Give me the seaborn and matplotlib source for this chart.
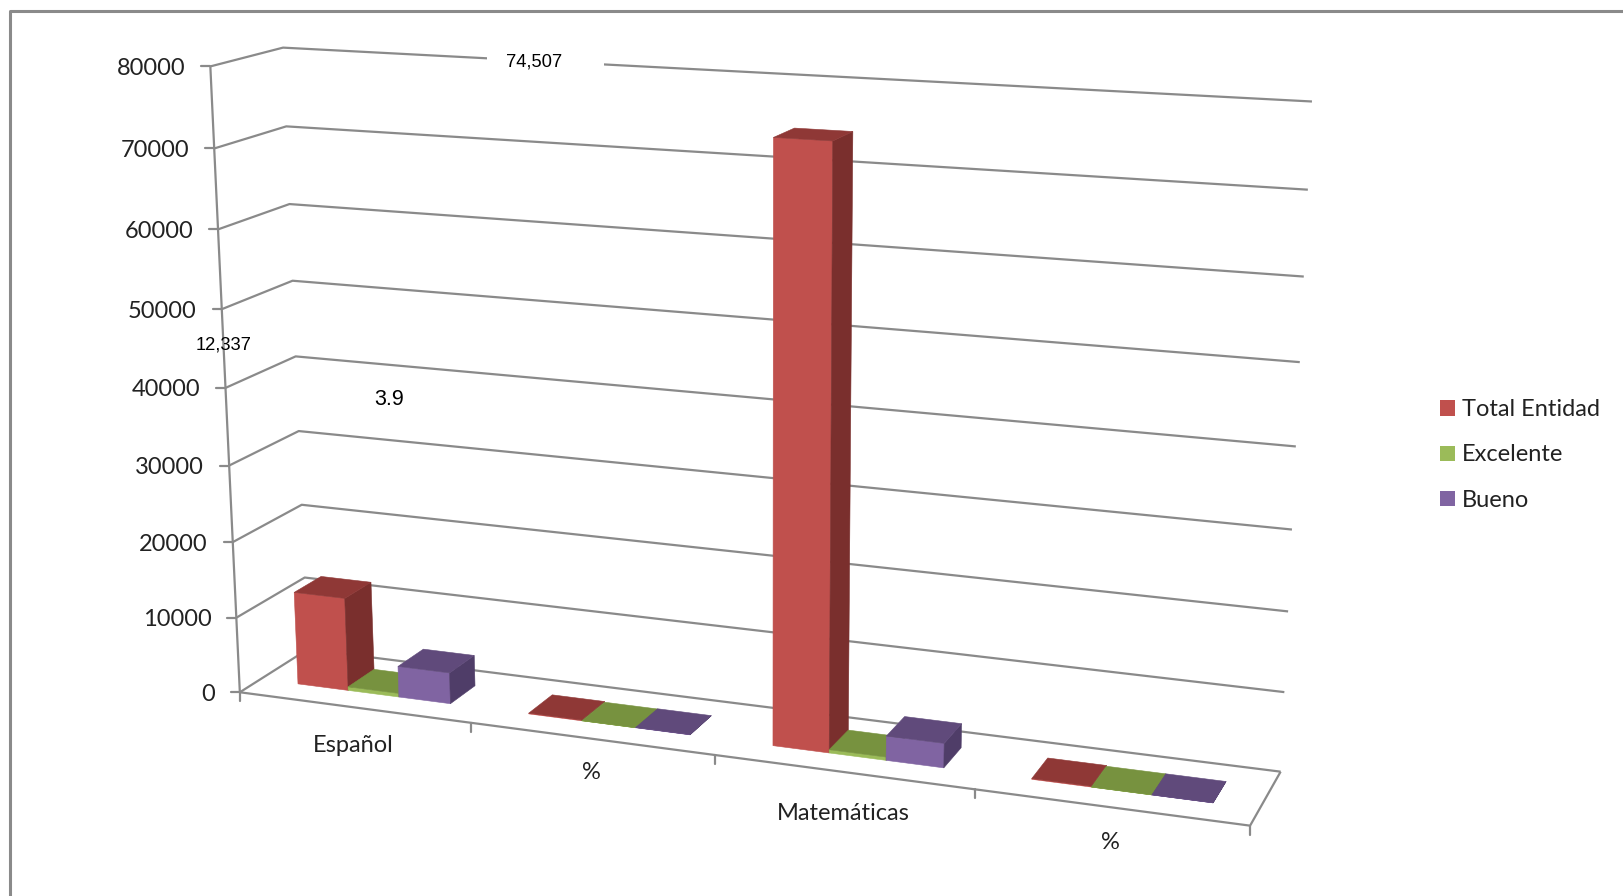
import numpy as np
import matplotlib
matplotlib.use("Agg")
import matplotlib.pyplot as plt
from matplotlib.patches import Patch, Polygon, Rectangle
import seaborn as sns

# Chart values
categories = ["Español", "%", "Matemáticas", "%"]
series_names = ["Total Entidad", "Excelente", "Bueno"]
total_entidad = [12337, 100, 74507, 100]
excelente = [481, 3.9, 420, 0.5]
bueno = [4100, 33, 3100, 4.2]
y_ticks = [0, 10000, 20000, 30000, 40000, 50000, 60000, 70000, 80000]

# Face colours: front, top, side
front_colors = sns.color_palette(["#C0504D", "#9BBB59", "#8064A2"])
top_colors = sns.color_palette(["#8F3836", "#77923F", "#604A7B"])
side_colors = sns.color_palette(["#7A2F2D", "#5F7530", "#4F3D68"])
GRID = "#8A8A8A"

sns.set_theme(style="white")
plt.rcParams["font.family"] = ["Lato", "DejaVu Sans"]

SCALE = 1624 / 1568
fig = plt.figure(figsize=(16.24, 8.96), dpi=100, facecolor="white")
ax = fig.add_axes([0, 0, 1, 1])
ax.set_xlim(0, 1624)
ax.set_ylim(896, 0)
ax.axis("off")

# Perspective camera fitted to the chart box: category u in 0..4,
# value in tens of thousands 0..8, depth w in 0..1.
front_left = [(232, 669), (228, 597), (224.5, 523), (221, 448), (217.5, 373),
              (214, 298), (210.5, 222), (207, 144), (203.5, 65)]
back_left = [(298, 628), (295, 558), (291, 487), (288, 416), (285, 344),
             (282, 271), (279, 197), (276, 122), (274, 46)]
back_right = [(1236, 744), (1240, 668), (1244, 591), (1247, 511), (1251, 431),
              (1255, 350), (1259, 267), (1263, 183), (1267, 98)]
anchors_3d, anchors_2d = [], []
for lev in range(9):
    anchors_3d += [(0, lev, 0), (0, lev, 1), (4, lev, 1)]
    anchors_2d += [front_left[lev], back_left[lev], back_right[lev]]
anchors_3d.append((4, 0, 0))
anchors_2d.append((1207, 798))

rows, rhs = [], []
for (u, v, w), (px, py) in zip(anchors_3d, anchors_2d):
    px, py = px * SCALE, py * SCALE
    rows.append([u, v, w, 1, 0, 0, 0, 0, -px * u, -px * v, -px * w])
    rows.append([0, 0, 0, 0, u, v, w, 1, -py * u, -py * v, -py * w])
    rhs += [px, py]
sol = np.linalg.lstsq(np.array(rows, float), np.array(rhs, float), rcond=None)[0]
CAMERA = np.append(sol, 1.0).reshape(3, 4)


def project(u, value, w):
    p = CAMERA @ np.array([u, value / 10000.0, w, 1.0])
    return p[0] / p[2], p[1] / p[2]


def draw_path(points, lw=1.6, z=1):
    xs, ys = zip(*[project(*p) for p in points])
    ax.plot(xs, ys, color=GRID, lw=lw, solid_capstyle="butt", zorder=z)


# Outer chart border, running off the right and bottom edges
ax.plot([10.5, 10.5, 1624], [896, 11.5, 11.5], color=GRID, lw=2.2, zorder=1)

# Walls, floor and axes
for tick in y_ticks:
    draw_path([(0, tick, 0), (0, tick, 1), (4, tick, 1)])
draw_path([(0, 0, 0), (0, 80000, 0)])
draw_path([(0, 0, 0), (4, 0, 0), (4, 0, 1)])

for tick in y_ticks:
    x, y = project(0, tick, 0)
    ax.plot([x - 9, x], [y, y], color=GRID, lw=1.6, zorder=1)
    ax.text(x - 25, y, str(tick), ha="right", va="center_baseline",
            fontsize=17, color="#222222")

for i in range(5):
    x, y = project(i, 0, 0)
    ax.plot([x, x], [y, y + 9], color=GRID, lw=1.6, zorder=1)

# Label space that interrupts the top gridline
ax.add_patch(Rectangle((470 * SCALE, 48 * SCALE), 113 * SCALE, 24 * SCALE,
                       facecolor="white", edgecolor="none", zorder=2))

# Bars: three per category, gap of 1.5 bar widths, depth 0.3..0.7
BAR_W = 1 / 4.5
D0, D1 = 0.3, 0.7
z = 3
series_values = [total_entidad, excelente, bueno]
for cat in range(len(categories)):
    for s, values in enumerate(series_values):
        u0 = cat + BAR_W * 0.75 + s * BAR_W
        u1 = u0 + BAR_W
        val = values[cat]
        side = [(u1, 0, D0), (u1, 0, D1), (u1, val, D1), (u1, val, D0)]
        top = [(u0, val, D0), (u1, val, D0), (u1, val, D1), (u0, val, D1)]
        front = [(u0, 0, D0), (u1, 0, D0), (u1, val, D0), (u0, val, D0)]
        for pts, col in ((front, front_colors[s]), (side, side_colors[s]),
                         (top, top_colors[s])):
            ax.add_patch(Polygon([project(*p) for p in pts], closed=True,
                                 facecolor=col, edgecolor=col, lw=0.4, zorder=z))
            z += 1

# Category labels below the floor edge, on alternating offsets
label_drop = [37, 33, 40, 34]
for i, name in enumerate(categories):
    x, y = project(i + 0.5, 0, 0)
    ax.text(x, y + label_drop[i] * SCALE, name, ha="center", va="center",
            fontsize=17, color="#222222")

# Data labels
data_labels = [
    (f"{total_entidad[2]:,}", 516, 60, 13.2),
    (f"{total_entidad[0]:,}", 216, 333, 13.2),
    (f"{excelente[0] / total_entidad[0] * 100:.1f}", 376, 386, 15.5),
]
for text, lx, ly, size in data_labels:
    ax.text(lx * SCALE, ly * SCALE, text, ha="center", va="center", fontsize=size,
            color="black", family="Liberation Sans", zorder=200)

# Legend
handles = [Patch(facecolor=c, edgecolor="none", label=n)
           for c, n in zip(front_colors, series_names)]
ax.legend(handles=handles, loc="center left", frameon=False,
          bbox_to_anchor=(1440, 455), bbox_transform=ax.transData,
          fontsize=17, handlelength=0.62, handleheight=0.62, handletextpad=0.32,
          labelspacing=1.02, borderpad=0, borderaxespad=0, labelcolor="#222222")

sns.despine(ax=ax, left=True, bottom=True)
fig.savefig("out.png", dpi=100, facecolor="white")
